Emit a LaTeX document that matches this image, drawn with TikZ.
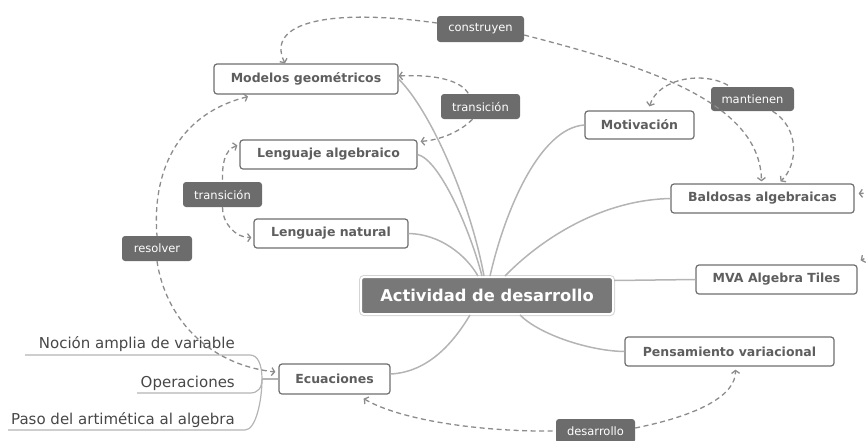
\documentclass[tikz,border=0pt]{standalone}
\usepackage{fontspec}
\setmainfont{DejaVu Sans}
\usetikzlibrary{arrows.meta}
\definecolor{nodeborder}{HTML}{6E6E6E}
\definecolor{nodetext}{HTML}{5E5E5E}
\definecolor{cenfill}{HTML}{787878}
\definecolor{cenring}{HTML}{D4D4D4}
\definecolor{lblfill}{HTML}{6C6C6C}
\definecolor{leaftext}{HTML}{474747}
\definecolor{branchc}{HTML}{B4B4B4}
\definecolor{relc}{HTML}{8C8C8C}
\begin{document}
\begin{tikzpicture}[x=1pt,y=-1pt,
  topic/.style={draw=nodeborder, line width=1.2pt, fill=white, rounded corners=3pt,
    font=\fontsize{12.5}{14}\selectfont\bfseries, text=nodetext, inner sep=0pt},
  central/.style={fill=cenfill, rounded corners=3pt, text=white,
    preaction={draw=cenring, line width=4pt}, draw=white, line width=2pt,
    font=\fontsize{16.3}{18}\selectfont\bfseries, inner sep=0pt},
  lbl/.style={fill=lblfill, rounded corners=3pt, text=white,
    font=\fontsize{11.5}{13}\selectfont, inner sep=0pt, minimum height=25pt},
  leaf/.style={text=leaftext, font=\fontsize{15}{17}\selectfont, inner sep=0pt, anchor=base east},
  branch/.style={draw=branchc, line width=1.5pt},
  rel/.style={draw=relc, line width=1.3pt, dash pattern=on 5pt off 3.5pt},
  tip/.tip={Straight Barb[length=3pt,width=8pt]}
]
\useasboundingbox (0,0) rectangle (866,440);

% nodes
\node[central, minimum width=252pt, minimum height=37pt] (cen) at (487,295.5) {Actividad de desarrollo};
\node[topic, minimum width=184pt, minimum height=30pt] (mg) at (306,79) {Modelos geométricos};
\node[topic, minimum width=177pt, minimum height=29pt] (la) at (328.5,154.5) {Lenguaje algebraico};
\node[topic, minimum width=154pt, minimum height=29pt] (ln) at (331,233.5) {Lenguaje natural};
\node[topic, minimum width=111pt, minimum height=30pt] (ec) at (334.5,379) {Ecuaciones};
\node[topic, minimum width=109pt, minimum height=28pt] (mot) at (639.5,125) {Motivación};
\node[topic, minimum width=183pt, minimum height=29pt] (bal) at (762.5,198.5) {Baldosas algebraicas};
\node[topic, minimum width=161pt, minimum height=29pt] (mva) at (776.5,279.5) {MVA Algebra Tiles};
\node[topic, minimum width=209pt, minimum height=29pt] (pv) at (729.5,351.5) {Pensamiento variacional};

\node[lbl, minimum width=87pt, minimum height=26pt] (cons) at (480.5,29) {construyen};
\node[lbl, minimum width=79pt] (trU) at (480.5,106.5) {transición};
\node[lbl, minimum width=83pt, minimum height=24pt] (man) at (752.5,99) {mantienen};
\node[lbl, minimum width=79pt] (trL) at (222.5,194.5) {transición};
\node[lbl, minimum width=70pt] (res) at (157,248.5) {resolver};
\node[lbl, minimum width=79pt, minimum height=24pt] (des) at (595.5,431) {desarrollo};

\node[leaf] (l1) at (235,348) {Noción amplia de variable};
\node[leaf] (l2) at (235,387) {Operaciones};
\node[leaf] (l3) at (235,424) {Paso del artimética al algebra};

% branches from the central topic
\draw[branch] (mg.east) .. controls (430,110) and (470,200) .. ([xshift=-3pt]cen.north);
\draw[branch] (la.east) .. controls (440,160) and (470,230) .. ([xshift=-5pt]cen.north);
\draw[branch] (ln.east) .. controls (440,234) and (466,255) .. ([xshift=-9pt]cen.north);
\draw[branch] (mot.west) .. controls (540,128) and (505,210) .. ([xshift=3pt]cen.north);
\draw[branch] (bal.west) .. controls (600,200) and (540,240) .. ([xshift=18pt]cen.north);
\draw[branch] ([yshift=15pt]cen.east) -- (mva.west);
\draw[branch] ([xshift=33pt]cen.south) .. controls (540,335) and (590,351) .. (pv.west);
\draw[branch] ([yshift=5pt]ec.east) .. controls (430,372) and (455,340) .. ([xshift=-17pt]cen.south);

% leaves of Ecuaciones
\coordinate (j) at (262,379);
\coordinate (u1a) at (25,355);  \coordinate (u1b) at (250,355);
\coordinate (u2a) at (137,393); \coordinate (u2b) at (250,393);
\coordinate (u3a) at (8,430);   \coordinate (u3b) at (245,430);
\draw[branch, line width=1.2pt] (ec.west) -- (j);
\draw[branch, line width=1.2pt] (u1a) -- (u1b) .. controls (258,355) and (262,365) .. (j);
\draw[branch, line width=1.2pt] (u2a) -- (u2b) .. controls (258,393) and (262,388) .. (j);
\draw[branch, line width=1.2pt] (u3a) -- (u3b) .. controls (256,430) and (262,400) .. (j);

% relationships
\draw[rel, tip-] ([xshift=-21pt]mg.north) .. controls (265,22) and (330,8) .. ([yshift=6pt]cons.west);
\draw[rel, -tip] ([yshift=-6pt]cons.east) .. controls (640,65) and (760,100) .. ([xshift=-1pt,yshift=2pt]bal.north);

\draw[rel, tip-] ([yshift=3pt]mg.east) .. controls (440,74) and (462,82) .. ([xshift=-12pt]trU.north);
\draw[rel, -tip] ([xshift=-8pt]trU.south) .. controls (460,132) and (440,140) .. ([xshift=3pt,yshift=-2pt]la.north east);

\draw[rel, tip-] ([xshift=-2pt,yshift=-6pt]la.north west) .. controls (224,150) and (222,165) .. (trL.north);
\draw[rel, -tip] (trL.south) .. controls (222,222) and (235,238) .. ([xshift=-2pt,yshift=-4pt]ln.west);

\draw[rel, tip-] ([xshift=-58pt,yshift=-2pt]mg.south) .. controls (175,115) and (152,175) .. (res.north);
\draw[rel, -tip] (res.south) .. controls (165,315) and (205,364) .. ([xshift=-3pt,yshift=7pt]ec.west);

\draw[rel, tip-] ([xshift=10pt,yshift=4pt]mot.north) .. controls (658,78) and (705,70) .. ([xshift=-22pt]man.north);
\draw[rel, -tip] ([xshift=20pt]man.south) .. controls (800,128) and (798,165) .. ([xshift=18pt,yshift=2pt]bal.north);

\draw[rel, tip-] ([xshift=-27pt,yshift=-4pt]ec.south east) .. controls (400,420) and (480,432) .. (des.west);
\draw[rel, -tip] ([yshift=3pt]des.east) .. controls (700,415) and (736,395) .. ([xshift=6pt,yshift=-3pt]pv.south);

\coordinate (e1) at (872,193);
\coordinate (e2) at (872,255);
\draw[rel, -tip] (e1) -- ([xshift=4pt,yshift=5pt]bal.east);
\draw[rel, -tip] (e2) -- ([xshift=3pt,yshift=4pt]mva.north east);
\end{tikzpicture}
\end{document}
